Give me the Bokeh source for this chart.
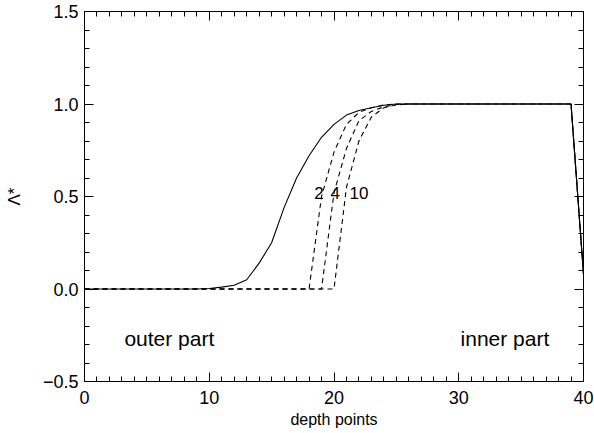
from bokeh.plotting import figure
from bokeh.models import Range1d, LinearAxis, FixedTicker, Label
from bokeh.embed import file_html
from bokeh.resources import INLINE
import numpy as np

# depth index along the atmosphere
depth = list(range(41))

# exact Lambda* operator diagonal
lam_exact = [0.0] * 10 + [0.003, 0.01, 0.02, 0.05, 0.14, 0.25, 0.44, 0.60, 0.72, 0.82,
                          0.89, 0.94, 0.965, 0.98, 0.993] + [1.0] * 15 + [0.08]

# approximate operators for different numbers of iterations
lam_2 = [0.0] * 19 + [0.50, 0.74, 0.89, 0.955, 0.98, 0.995] + [1.0] * 15 + [0.08]
lam_4 = [0.0] * 20 + [0.52, 0.76, 0.91, 0.96, 0.985, 0.997] + [1.0] * 14 + [0.08]
lam_10 = [0.0] * 21 + [0.55, 0.80, 0.93, 0.98, 0.995] + [1.0] * 14 + [0.08]

curve_labels = ["2", "4", "10"]
curve_label_x = [18.8, 20.1, 22.0]
curve_label_y = [0.52, 0.52, 0.52]

region_labels = ["outer part", "inner part"]
region_label_x = [6.8, 33.7]
region_label_y = [-0.27, -0.27]

x_major = [0, 10, 20, 30, 40]
x_major_text = ["0", "10", "20", "30", "40"]
x_minor = list(range(41))
y_major = [-0.5, 0.0, 0.5, 1.0, 1.5]
y_major_text = ["\u22120.5", "0.0", "0.5", "1.0", "1.5"]
y_minor = [round(v, 1) for v in np.arange(-0.5, 1.51, 0.1)]

FONT = "Liberation Sans"

p = figure(width=594, height=433, x_range=Range1d(0, 40), y_range=Range1d(-0.5, 1.5),
           output_backend="svg", toolbar_location=None,
           min_border_left=84, min_border_right=11, min_border_top=11, min_border_bottom=52,
           x_axis_label="depth points", y_axis_label="Λ*")
p.background_fill_color = "white"
p.border_fill_color = "white"
p.outline_line_color = "black"
p.outline_line_width = 1
p.xgrid.visible = False
p.ygrid.visible = False


def style_axis(ax, ticks, minor, texts):
    ax.ticker = FixedTicker(ticks=ticks, minor_ticks=minor)
    ax.axis_line_color = "black"
    ax.major_tick_line_color = "black"
    ax.minor_tick_line_color = "black"
    ax.major_tick_in = 9
    ax.major_tick_out = 0
    ax.minor_tick_in = 5
    ax.minor_tick_out = 0
    ax.major_label_text_font = FONT
    ax.major_label_text_color = "black"
    ax.major_label_text_font_size = "18px"
    if texts is None:
        # mirrored axis: ticks only
        ax.major_label_overrides = {t: "" for t in ticks}
        ax.major_label_standoff = 0
    else:
        ax.major_label_overrides = dict(zip(ticks, texts))


style_axis(p.xaxis[0], x_major, x_minor, x_major_text)
style_axis(p.yaxis[0], y_major, y_minor, y_major_text)
p.xaxis[0].major_label_standoff = 9
p.yaxis[0].major_label_standoff = 6
for ax in (p.xaxis[0], p.yaxis[0]):
    ax.axis_label_text_font = FONT
    ax.axis_label_text_font_style = "normal"
    ax.axis_label_text_color = "black"
p.xaxis[0].axis_label_text_font_size = "16px"
p.yaxis[0].axis_label_text_font_size = "17px"
p.xaxis[0].axis_label_standoff = 4
p.yaxis[0].axis_label_standoff = 16

top = LinearAxis()
style_axis(top, x_major, x_minor, None)
p.add_layout(top, "above")
right = LinearAxis()
style_axis(right, y_major, y_minor, None)
p.add_layout(right, "right")

p.line(depth, lam_exact, line_color="black", line_width=1.1)
for ys in (lam_2, lam_4, lam_10):
    p.line(depth, ys, line_color="black", line_width=1.1, line_dash="5 4")

for t, x, y in zip(curve_labels, curve_label_x, curve_label_y):
    p.add_layout(Label(x=x, y=y, text=t, text_font=FONT, text_font_size="17px",
                       text_align="center", text_baseline="middle", text_color="black"))

for t, x, y in zip(region_labels, region_label_x, region_label_y):
    p.add_layout(Label(x=x, y=y, text=t, text_font=FONT, text_font_size="21px",
                       text_align="center", text_baseline="middle", text_color="black"))

open("out.html", "w").write(file_html(p, INLINE))
